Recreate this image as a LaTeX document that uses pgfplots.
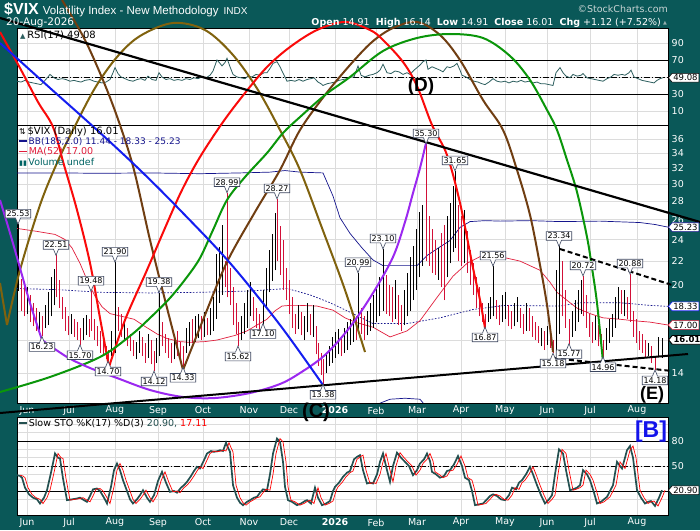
\documentclass[border=0pt]{standalone}
\usepackage{pgfplots}
\usepackage{pgfplotstable}
\pgfplotsset{compat=1.18}
\usepackage{fontspec}
\setmainfont{DejaVu Sans}
\newfontfamily\libsans{Liberation Sans}
\newfontfamily\dejavu{DejaVu Sans}
\usetikzlibrary{shapes.callouts,shapes.symbols}
\definecolor{bgteal}{RGB}{10,88,88}
\definecolor{barred}{RGB}{210,16,56}
\definecolor{bbnavy}{RGB}{20,20,140}
\definecolor{macrim}{RGB}{225,30,60}
\definecolor{rsiline}{RGB}{45,95,95}
\definecolor{stok}{RGB}{35,80,80}
\definecolor{arcred}{RGB}{250,10,10}
\definecolor{arcbrown}{RGB}{112,62,18}
\definecolor{arcolive}{RGB}{128,98,14}
\definecolor{arcgreen}{RGB}{10,150,10}
\definecolor{arcpurple}{RGB}{155,40,240}
\definecolor{arcblue}{RGB}{20,30,240}
\definecolor{gridc}{RGB}{220,220,220}
\definecolor{labbord}{RGB}{60,70,95}
\definecolor{voltxt}{RGB}{0,100,100}

\pgfplotsset{
  panel/.style={anchor=south west, scale only axis, width=651pt, xmin=17, xmax=668,
    axis background/.style={fill=white}, axis line style={black, line width=0.6pt},
    xtick={27,69,115,158,203,249,289,335,376,417,461,505,547,590,637},
    grid=major, major grid style={gridc, line width=0.5pt}, major tick length=0pt,
    yticklabel pos=right,
    yticklabel style={text=white, font=\fontsize{9.5}{10}\selectfont, anchor=west, inner sep=1pt, xshift=2.5pt},
    xticklabel style={text=white, font=\fontsize{9.5}{10}\selectfont, anchor=center},
    clip mode=individual},
}
\tikzset{
  lab/.style={rectangle callout, draw=labbord, fill=white, text=black, font=\fontsize{8}{8.5}\selectfont,
    inner sep=1.3pt, callout pointer width=5pt, line width=0.6pt},
  tag/.style={signal, signal to=west, signal pointer angle=100, draw=black, fill=white, text=black,
    font=\fontsize{8.5}{9}\selectfont, inner sep=1.2pt, anchor=west, line width=0.6pt},
}
\newcommand\hilab[2]{\node[lab, callout absolute pointer={(axis cs:#1,#2)}] at ([yshift=10.5pt]axis cs:#1,#2) {#2};}
\newcommand\lolab[2]{\node[lab, callout absolute pointer={(axis cs:#1,#2)}] at ([yshift=-10.5pt]axis cs:#1,#2) {#2};}

\pgfplotstableread{
x v
17 39
20 38
22 36
25 24
29 16
33 12
37 10
40 5
44 12
47 21
51 42
55 65
58 60
60 59
63 35
67 9
72 10
77 11
80 12
84 9
87 7
90 14
93 22
97 23
100 20
104 12
107 5
111 25
114 45
117 53
120 45
123 33
127 20
130 10
133 5
137 10
140 15
143 21
147 12
150 7
154 15
158 32
162 43
166 30
170 19
174 20
177 18
181 24
184 27
187 31
191 38
194 44
197 49
200 47
204 57
207 65
211 68
214 67
218 68
220 69
223 68
226 78
228 72
230 67
233 27
237 12
240 6
243 3
247 7
250 9
254 12
257 13
260 18
263 22
267 21
270 40
273 65
277 83
280 79
283 55
285 25
288 9
292 7
297 3
301 5
305 8
307 9
311 5
315 24
318 12
322 3
326 5
330 8
333 20
335 25
339 30
343 37
347 42
350 44
354 58
357 61
360 63
363 45
367 29
370 30
373 29
377 40
380 55
383 65
387 45
390 31
393 50
397 66
401 60
405 55
409 50
413 39
417 45
420 53
424 58
427 65
430 56
432 43
436 40
440 36
444 38
447 44
450 45
454 52
458 62
462 50
465 36
469 33
472 20
475 3
479 4
483 5
487 10
490 14
493 16
497 14
501 10
505 9
509 15
512 24
516 22
519 30
522 33
526 40
530 49
533 40
537 27
541 15
545 5
549 10
552 15
555 40
559 70
563 65
566 45
570 21
573 22
577 24
580 27
583 45
587 40
590 33
594 18
597 5
601 7
604 10
607 13
610 20
613 27
617 55
620 50
622 47
625 60
627 69
630 74
633 60
637 21
641 12
645 5
648 7
651 8
655 2
659 12
662 20.9
}\stotable

\begin{document}
\begin{tikzpicture}
\useasboundingbox (0pt,0pt) rectangle (700pt,530pt);
\clip (0pt,0pt) rectangle (700pt,530pt);
\fill[bgteal] (0pt,0pt) rectangle (700pt,530pt);

% ---------------- RSI panel ----------------
\begin{axis}[panel, at={(17pt,405pt)}, height=97pt, ymin=-6.5, ymax=107.6,
  xticklabels={}, ytick={10,30,50,70,90}, yticklabels={10,30,,70,90}]
\addplot[black, line width=0.8pt] coordinates {(17,70)(668,70)};
\addplot[black, line width=0.8pt] coordinates {(17,30)(668,30)};
\addplot[black, line width=0.7pt, dash pattern=on 6pt off 2pt on 1.2pt off 2pt] coordinates {(17,50)(668,50)};
\addplot[rsiline, line width=0.8pt] coordinates {
(17,45)(21,44)(25,46)(29,44)(33,43)(37,42)(41,41)(45,46)(48,50)(50,53)(54,49)(58,47)(62,48)(66,47)(70,45)(74,46)(77,45)(81,44)(85,46)(90,47)(94,45)(98,44)(102,43)(106,44)(110,47)(113,55)(115,61)(118,54)(121,50)(125,48)(129,46)(133,45)(137,47)(141,48)(145,46)(148,51)(152,47)(156,46)(159,55)(162,50)(166,47)(170,48)(174,46)(178,47)(182,46)(186,48)(190,47)(194,49)(198,48)(202,50)(206,49)(210,52)(213,57)(217,70)(220,66)(222,63)(225,67)(227,72)(230,62)(233,53)(237,50)(241,49)(245,48)(248,51)(252,50)(256,53)(260,52)(264,55)(267,55)(270,60)(273,66)(277,68)(280,62)(282,57)(285,50)(287,45)(291,46)(295,45)(299,47)(303,45)(307,47)(311,48)(314,49)(318,44)(321,42)(323,40)(327,42)(331,43)(335,44)(339,46)(343,47)(347,48)(350,50)(354,50)(358,63)(361,52)(365,50)(369,52)(373,53)(377,55)(380,58)(383,65)(387,55)(391,54)(395,57)(399,56)(403,53)(407,55)(410,53)(414,58)(417,61)(420,64)(423,68)(426,70)(428,59)(432,62)(436,60)(440,58)(443,56)(447,62)(450,61)(454,63)(457,66)(460,58)(462,52)(466,50)(470,47)(474,45)(478,44)(482,42)(485,41)(489,44)(493,48)(497,45)(501,44)(505,45)(509,43)(513,45)(517,44)(521,46)(525,44)(529,45)(533,43)(537,44)(541,42)(545,42)(549,41)(553,40)(556,55)(558,58)(560,61)(563,55)(566,51)(570,49)(573,53)(577,51)(581,52)(583,54)(587,49)(591,48)(595,47)(599,46)(603,45)(607,48)(611,50)(614,53)(618,52)(622,53)(625,52)(629,55)(631,58)(634,50)(638,48)(642,46)(646,45)(650,44)(654,43)(657,46)(660,48)(663,49.08)};
\node[tag] at (axis cs:668,49.08) {49.08};
\end{axis}

% ---------------- Main price panel ----------------
\begin{axis}[panel, at={(17pt,127pt)}, height=278pt, ymode=log, ymin=12.41, ymax=38.1,
  ytick={14,16,18,20,22,24,26,28,30,32,34,36},
  yticklabels={14,,,20,22,24,26,28,30,32,34,36},
  xticklabels={Jun,Jul,Aug,Sep,Oct,Nov,Dec,\textbf{2026},Feb,Mar,Apr,May,Jun,Jul,Aug},
  xticklabel style={yshift=-7.5pt}]
\addplot[bbnavy, line width=0.7pt] coordinates {(17,31.4)(60,31.4)(100,31.35)(150,31.4)(200,31.3)(240,31.4)(270,31.5)(285,31.7)(300,31.5)(323,31.4)(333,28.6)(340,26.2)(350,24.6)(362,23.2)(373,22.1)(383,21.6)(400,21.6)(417,21.6)(427,22.5)(440,23.3)(450,23.9)(460,25.2)(470,25.8)(485,25.9)(500,25.85)(530,25.9)(560,25.8)(600,25.85)(640,25.7)(655,25.5)(668,25.23)};
\addplot[bbnavy, line width=0.7pt, dash pattern=on 1.6pt off 1.6pt] coordinates {(17,19.7)(60,19.6)(100,19.4)(150,19.35)(200,19.4)(250,19.5)(287,19.7)(310,19.2)(330,18.6)(350,17.9)(373,17.1)(407,17.1)(440,17.5)(473,18.1)(505,18.4)(560,18.35)(580,18.6)(620,18.6)(650,18.4)(668,18.33)};
\addplot[bbnavy, line width=0.7pt] coordinates {(330,6.5)(340,10.0)(350,11.3)(362,11.8)(375,12.3)(390,12.6)(405,12.65)(420,12.6)(430,12.0)(440,11.7)(460,10.2)(480,9.5)};
\addplot[macrim, line width=0.7pt] coordinates {(17,25.1)(37,24.8)(55,24.5)(65,24.0)(72,23.2)(80,21.8)(88,20.2)(95,19.1)(102,18.3)(110,17.8)(122,17.6)(134,17.4)(145,16.9)(157,16.4)(167,16.1)(180,15.9)(190,15.85)(205,15.9)(217,16.0)(235,16.3)(247,16.6)(257,17.0)(267,17.4)(275,18.0)(282,18.35)(290,18.4)(300,18.4)(317,18.35)(333,18.05)(345,17.5)(355,17.2)(373,16.85)(390,16.2)(407,16.6)(420,17.3)(437,19.0)(453,20.7)(467,21.8)(480,22.4)(493,22.5)(505,22.3)(520,22.0)(540,21.2)(550,20.2)(557,19.4)(570,18.6)(577,18.2)(590,17.8)(603,17.5)(620,17.4)(633,17.3)(650,17.2)(668,17.0)};
\addplot[black, line width=1pt, unbounded coords=jump] coordinates {
(18,19.5)(18,25.53)(18,nan)(27,17.8)(27,19.8)(27,nan)(39,16.4)(39,17.9)(39,nan)(45,16.8)(45,18.4)(45,nan)
(48,17.0)(48,19.4)(48,nan)(51,17.6)(51,20.6)(51,nan)(54,18.4)(54,21.3)(54,nan)(71,16.4)(71,17.8)(71,nan)
(83,16.0)(83,17.5)(83,nan)(86,16.3)(86,17.7)(86,nan)(111,15.0)(111,16.6)(111,nan)(115,15.2)(115,21.90)(115,nan)
(124,16.0)(124,17.3)(124,nan)(136,14.8)(136,15.9)(136,nan)(139,15.2)(139,16.6)(139,nan)(148,14.9)(148,16.4)(148,nan)
(156,14.6)(156,16.1)(156,nan)(159,15.0)(159,19.38)(159,nan)(174,14.8)(174,16.4)(174,nan)(186,15.2)(186,16.8)(186,nan)
(189,15.6)(189,17.2)(189,nan)(195,15.9)(195,17.6)(195,nan)(198,16.1)(198,17.8)(198,nan)(204,16.2)(204,17.9)(204,nan)
(210,16.3)(210,18.2)(210,nan)(213,16.6)(213,19.0)(213,nan)(216,17.4)(216,22.6)(216,nan)(219,18.6)(219,23.3)(219,nan)
(222,19.2)(222,25.4)(222,nan)(241,16.0)(241,17.6)(241,nan)(244,16.4)(244,18.6)(244,nan)(247,16.8)(247,19.6)(247,nan)
(250,17.6)(250,20.2)(250,nan)(263,17.10)(263,19.6)(263,nan)(266,18.2)(266,21.4)(266,nan)(269,19.4)(269,23.0)(269,nan)
(272,20.3)(272,24.5)(272,nan)(275,21.2)(275,26.7)(275,nan)(298,16.7)(298,18.4)(298,nan)(304,16.0)(304,17.6)(304,nan)
(307,16.5)(307,18.6)(307,nan)(313,16.2)(313,18.4)(313,nan)(326,14.0)(326,15.2)(326,nan)(329,14.4)(329,15.6)(329,nan)
(332,14.6)(332,16.2)(332,nan)(335,14.9)(335,16.5)(335,nan)(338,15.1)(338,16.7)(338,nan)(344,15.2)(344,16.8)(344,nan)
(347,15.4)(347,17.2)(347,nan)(350,15.7)(350,17.4)(350,nan)(353,15.9)(353,17.8)(353,nan)(358,16.6)(358,20.99)(358,nan)
(367,16.3)(367,18.0)(367,nan)(370,16.6)(370,18.6)(370,nan)(373,16.8)(373,19.2)(373,nan)(376,17.2)(376,19.8)(376,nan)
(379,17.6)(379,20.6)(379,nan)(383,18.0)(383,23.10)(383,nan)(395,17.4)(395,20.4)(395,nan)(404,17.0)(404,19.6)(404,nan)
(407,17.6)(407,21.0)(407,nan)(410,18.0)(410,22.4)(410,nan)(413,18.8)(413,23.4)(413,nan)(416,19.6)(416,25.0)(416,nan)
(419,20.6)(419,26.8)(419,nan)(422,21.6)(422,27.6)(422,nan)(438,20.4)(438,23.2)(438,nan)(447,20.6)(447,26.4)(447,nan)
(450,21.8)(450,27.8)(450,nan)(453,22.8)(453,29.8)(453,nan)(455,23.2)(455,31.65)(455,nan)(464,21.8)(464,27.0)(464,nan)
(488,17.2)(488,18.6)(488,nan)(490,17.4)(490,19.0)(490,nan)(493,17.6)(493,21.56)(493,nan)(502,17.2)(502,19.2)(502,nan)
(505,17.4)(505,19.4)(505,nan)(514,16.9)(514,18.6)(514,nan)(517,17.2)(517,19.0)(517,nan)(526,16.6)(526,18.6)(526,nan)
(541,15.6)(541,16.8)(541,nan)(547,15.7)(547,16.9)(547,nan)(556,15.3)(556,21.2)(556,nan)(559,16.4)(559,23.34)(559,nan)
(572,16.2)(572,18.0)(572,nan)(575,16.6)(575,18.8)(575,nan)(578,17.2)(578,19.6)(578,nan)(581,17.8)(581,20.4)(581,nan)
(595,16.0)(595,17.6)(595,nan)(606,15.4)(606,16.8)(606,nan)(609,15.8)(609,17.4)(609,nan)(612,16.2)(612,17.8)(612,nan)
(615,16.8)(615,19.0)(615,nan)(618,17.4)(618,19.8)(618,nan)(624,17.6)(624,19.6)(624,nan)(648,15.0)(648,15.8)(648,nan)
(658,15.0)(658,16.2)(658,nan)(662,14.91)(662,16.14)(662,nan)};
\addplot[barred, line width=1pt, unbounded coords=jump] coordinates {
(21,18.0)(21,20.5)(21,nan)(24,17.6)(24,20.0)(24,nan)(30,17.2)(30,19.2)(30,nan)(33,16.9)(33,18.6)(33,nan)
(36,16.6)(36,18.2)(36,nan)(42,16.23)(42,17.6)(42,nan)(56,19.0)(56,22.51)(56,nan)(59,18.2)(59,20.4)(59,nan)
(62,17.4)(62,19.0)(62,nan)(65,16.6)(65,18.3)(65,nan)(68,16.3)(68,17.6)(68,nan)(74,16.2)(74,17.4)(74,nan)
(77,16.0)(77,17.2)(77,nan)(80,15.70)(80,16.8)(80,nan)(89,16.2)(89,17.4)(89,nan)(91,16.6)(91,19.48)(91,nan)
(94,16.0)(94,17.4)(94,nan)(97,15.6)(97,16.9)(97,nan)(100,15.2)(100,16.6)(100,nan)(103,15.0)(103,16.2)(103,nan)
(106,14.8)(106,15.6)(106,nan)(108,14.70)(108,15.4)(108,nan)(118,16.6)(118,18.3)(118,nan)(121,16.2)(121,17.8)(121,nan)
(127,15.6)(127,16.8)(127,nan)(130,15.3)(130,16.4)(130,nan)(133,15.0)(133,16.0)(133,nan)(142,15.0)(142,16.2)(142,nan)
(145,14.6)(145,15.8)(145,nan)(151,14.5)(151,16.0)(151,nan)(154,14.12)(154,15.3)(154,nan)(162,15.6)(162,17.2)(162,nan)
(165,15.2)(165,16.4)(165,nan)(168,14.9)(168,16.1)(168,nan)(171,14.6)(171,15.8)(171,nan)(177,15.0)(177,16.6)(177,nan)
(180,14.7)(180,15.9)(180,nan)(183,14.33)(183,15.6)(183,nan)(192,15.8)(192,17.4)(192,nan)(201,16.0)(201,17.6)(201,nan)
(207,16.3)(207,17.5)(207,nan)(225,19.8)(225,22.0)(225,nan)(227,19.0)(227,28.99)(227,nan)(230,18.4)(230,21.4)(230,nan)
(233,17.0)(233,19.8)(233,nan)(236,16.4)(236,18.6)(236,nan)(238,15.62)(238,17.2)(238,nan)(253,17.3)(253,19.0)(253,nan)
(256,16.8)(256,18.2)(256,nan)(259,16.5)(259,17.8)(259,nan)(277,22.0)(277,28.27)(277,nan)(280,20.8)(280,25.3)(280,nan)
(283,19.6)(283,24.0)(283,nan)(286,18.8)(286,21.4)(286,nan)(289,17.8)(289,20.4)(289,nan)(292,16.8)(292,19.0)(292,nan)
(295,16.4)(295,17.8)(295,nan)(301,16.3)(301,17.9)(301,nan)(310,16.3)(310,17.8)(310,nan)(316,15.1)(316,16.9)(316,nan)
(318,14.4)(318,15.8)(318,nan)(321,13.9)(321,15.2)(321,nan)(323,13.38)(323,14.8)(323,nan)(341,15.0)(341,16.2)(341,nan)
(356,16.0)(356,17.6)(356,nan)(361,16.4)(361,18.2)(361,nan)(364,16.0)(364,17.6)(364,nan)(386,17.8)(386,20.8)(386,nan)
(389,17.6)(389,20.0)(389,nan)(392,17.2)(392,19.8)(392,nan)(398,17.0)(398,19.2)(398,nan)(401,16.6)(401,18.4)(401,nan)
(426,22.0)(426,35.30)(426,nan)(429,21.6)(429,26.4)(429,nan)(432,21.0)(432,25.0)(432,nan)(435,20.8)(435,24.0)(435,nan)
(441,19.8)(441,24.6)(441,nan)(444,18.8)(444,25.4)(444,nan)(458,22.0)(458,27.6)(458,nan)(461,21.6)(461,26.4)(461,nan)
(467,21.0)(467,24.8)(467,nan)(470,20.0)(470,23.0)(470,nan)(473,19.2)(473,21.8)(473,nan)(476,18.2)(476,20.6)(476,nan)
(479,17.6)(479,19.8)(479,nan)(482,17.2)(482,18.6)(482,nan)(485,16.87)(485,17.8)(485,nan)(496,17.4)(496,18.8)(496,nan)
(499,17.0)(499,18.4)(499,nan)(508,16.9)(508,18.4)(508,nan)(511,16.7)(511,18.0)(511,nan)(520,16.8)(520,18.2)(520,nan)
(523,16.4)(523,17.8)(523,nan)(529,16.6)(529,18.2)(529,nan)(532,16.2)(532,17.6)(532,nan)(535,16.0)(535,17.2)(535,nan)
(538,15.8)(538,16.9)(538,nan)(544,15.4)(544,16.6)(544,nan)(550,15.5)(550,16.4)(550,nan)(553,15.18)(553,16.0)(553,nan)
(562,17.6)(562,22.0)(562,nan)(565,16.8)(565,19.6)(565,nan)(569,15.77)(569,17.4)(569,nan)(583,17.6)(583,20.72)(583,nan)
(586,16.8)(586,19.2)(586,nan)(589,16.2)(589,17.8)(589,nan)(592,15.8)(592,17.2)(592,nan)(598,15.6)(598,17.0)(598,nan)
(601,15.2)(601,16.4)(601,nan)(603,14.96)(603,16.0)(603,nan)(621,17.8)(621,19.6)(621,nan)(627,17.4)(627,19.0)(627,nan)
(630,17.2)(630,20.88)(630,nan)(633,16.2)(633,18.0)(633,nan)(636,15.8)(636,17.4)(636,nan)(639,15.4)(639,16.6)(639,nan)
(642,15.2)(642,16.4)(642,nan)(645,14.9)(645,16.0)(645,nan)(651,14.6)(651,15.6)(651,nan)(655,14.18)(655,15.0)(655,nan)};
\end{axis}

% ---------------- Slow STO panel ----------------
\begin{axis}[panel, at={(17pt,15pt)}, height=98pt, ymin=-8.8, ymax=108.8,
  ytick={10,20,30,40,50,60,70,80,90,100}, yticklabels={,,,,50,,,80,,},
  xticklabels={Jun,Jul,Aug,Sep,Oct,Nov,Dec,\textbf{2026},Feb,Mar,Apr,May,Jun,Jul,Aug},
  xticklabel style={yshift=-7.5pt}]
\addplot[black, line width=0.8pt] coordinates {(17,80)(668,80)};
\addplot[black, line width=0.8pt] coordinates {(17,20)(668,20)};
\addplot[black, line width=0.7pt, dash pattern=on 6pt off 2pt on 1.2pt off 2pt] coordinates {(17,50)(668,50)};
\addplot[stok, line width=1.7pt] table[x=x, y=v] {\stotable};
\addplot[red, line width=0.7pt] table[x expr=\thisrow{x}+3, y=v] {\stotable};
\node[tag] at (axis cs:668,20.9) {20.90};
\end{axis}

% ---------------- Overlay (cycle arcs, trend lines) in pixel coordinates ----------------
\begin{axis}[at={(0pt,0pt)}, anchor=south west, scale only axis, width=700pt, height=530pt,
  xmin=0, xmax=700, ymin=0, ymax=530, y dir=reverse, hide axis, clip=false]
\addplot[arcolive, line width=2pt] coordinates {(0,283)(7,325)};
\addplot[arcolive, line width=2pt, smooth, tension=0.55] coordinates {(7,325)(20,270)(40,205)(57,163)(73,130)(95,88)(117,57)(140,36)(173,23)(205,30)(233,55)(258,90)(280,130)(300,170)(322,228)(345,290)(365,352)};
\addplot[arcbrown, line width=2pt, smooth, tension=0.55] coordinates {(62,0)(85,40)(105,85)(120,125)(134,170)(150,240)(165,300)(183,370)};
\addplot[arcbrown, line width=2pt, smooth, tension=0.55] coordinates {(183,370)(205,315)(227,262)(255,212)(280,170)(300,130)(325,95)(350,65)(372,42)(393,28)(417,22)(440,35)(460,60)(483,100)(503,130)(517,170)(530,215)(540,265)(547,305)(553,352)};
\addplot[arcred, line width=2pt, smooth, tension=0.55] coordinates {(0,32)(20,68)(38,102)(53,127)(64,165)(77,210)(90,263)(100,318)(109,367)};
\addplot[arcred, line width=2pt, smooth, tension=0.55] coordinates {(109,367)(125,320)(147,270)(165,228)(182,190)(200,157)(223,122)(245,93)(267,67)(290,47)(317,30)(345,22)(370,30)(383,40)(403,62)(417,86)(432,125)(447,155)(460,203)(473,268)(480,300)(485,328)};
\addplot[arcgreen, line width=2pt, smooth, tension=0.55] coordinates {(0,392)(50,377)(100,357)(130,336)(150,318)(170,298)(187,277)(200,258)(213,230)(227,200)(245,177)(267,153)(283,133)(300,117)(325,95)(350,77)(383,51)(417,38)(450,34)(483,38)(510,56)(530,80)(547,110)(557,130)(567,160)(577,192)(587,237)(592,268)(597,303)(603,362)};
\addplot[arcpurple, line width=2pt, smooth, tension=0.55] coordinates {(0,200)(10,233)(20,268)(30,303)(42,340)};
\addplot[arcpurple, line width=2pt, smooth, tension=0.55] coordinates {(42,340)(67,357)(90,368)(117,378)(150,390)(183,397)(215,398)(250,393)(280,384)(300,373)(325,355)(350,327)(373,293)(393,257)(405,222)(413,193)(420,168)(426,143)};
\addplot[arcblue, line width=2pt, smooth, tension=0.55] coordinates {(0,43)(50,88)(97,130)(140,170)(180,210)(230,263)(280,325)(323,385)};
\addplot[black, line width=2.2pt] coordinates {(0,18)(700,222)};
\addplot[black, line width=2pt] coordinates {(0,413)(688,354)};
\addplot[black, line width=2pt, dash pattern=on 5pt off 3pt] coordinates {(560,249)(672,285)};
\addplot[black, line width=2pt, dash pattern=on 5pt off 3pt] coordinates {(553,358)(672,371)};
\end{axis}

% ---------------- Price callouts and value tags (main panel coordinates) ----------------
\begin{axis}[at={(17pt,127pt)}, anchor=south west, scale only axis, width=651pt, height=278pt,
  xmin=17, xmax=668, ymode=log, ymin=12.41, ymax=38.1, hide axis, clip=false]
\hilab{18}{25.53}
\hilab{56}{22.51}
\hilab{91}{19.48}
\hilab{115}{21.90}
\hilab{159}{19.38}
\hilab{227}{28.99}
\hilab{277}{28.27}
\hilab{358}{20.99}
\hilab{383}{23.10}
\hilab{426}{35.30}
\hilab{455}{31.65}
\hilab{493}{21.56}
\hilab{559}{23.34}
\hilab{583}{20.72}
\hilab{630}{20.88}
\lolab{42}{16.23}
\lolab{80}{15.70}
\lolab{108}{14.70}
\lolab{154}{14.12}
\lolab{183}{14.33}
\lolab{238}{15.62}
\lolab{263}{17.10}
\lolab{323}{13.38}
\lolab{485}{16.87}
\lolab{553}{15.18}
\lolab{569}{15.77}
\lolab{603}{14.96}
\lolab{655}{14.18}
\node[tag, draw=bbnavy] at (axis cs:668,25.23) {25.23};
\node[tag, draw=arcblue] at (axis cs:668,18.33) {18.33};
\node[tag, draw=macrim] at (axis cs:668,17.00) {17.00};
\node[tag, line width=0.9pt, font=\fontsize{8.5}{9}\selectfont\bfseries] at (axis cs:668,16.01) {16.01};
\end{axis}

% ---------------- Texts ----------------
\node[anchor=west, text=white, inner sep=0pt] at (4pt,520.5pt)
  {{\libsans\fontsize{16}{16}\selectfont\bfseries \$VIX}\hspace{4pt}{\libsans\fontsize{11.5}{12}\selectfont Volatility Index - New Methodology}\hspace{5pt}{\libsans\fontsize{10}{10}\selectfont INDX}};
\node[anchor=west, text=white, inner sep=0pt, font=\fontsize{10.5}{11}\selectfont] at (6pt,507.5pt) {20-Aug-2026};
\node[anchor=east, text={rgb,255:red,200;green,212;blue,212}, inner sep=0pt, font=\fontsize{9.5}{10}\selectfont] at (668pt,521pt) {©StockCharts.com};
\node[anchor=east, text=white, inner sep=0pt, font=\fontsize{9.5}{10}\selectfont] at (661pt,507.5pt)
  {\textbf{Open} 14.91 \ \textbf{High} 16.14 \ \textbf{Low} 14.91 \ \textbf{Close} 16.01 \ \textbf{Chg} +1.12 (+7.52\%)};
\node[anchor=west, text={rgb,255:red,150;green,175;blue,175}, inner sep=0pt, font=\fontsize{5}{5}\selectfont] at (663pt,507pt) {▲};
\node[anchor=west, inner sep=0pt, font=\fontsize{10}{10}\selectfont] at (20pt,495pt) {{\fontsize{7}{7}\selectfont\textcolor{rsiline}{▲}}\,RSI(17) 49.08};
\node[anchor=west, inner sep=0pt, font=\fontsize{10}{10}\selectfont] at (19pt,398pt) {{\fontsize{8}{8}\selectfont ⇅}\,\$VIX (Daily) 16.01};
\node[anchor=west, inner sep=0pt, font=\fontsize{9}{10}\selectfont, text=bbnavy] at (19pt,388pt) {\rule[2.8pt]{8pt}{1.6pt}\,BB(185,2.0) 11.44 - 18.33 - 25.23};
\node[anchor=west, inner sep=0pt, font=\fontsize{9.5}{10}\selectfont, text=macrim] at (19pt,378pt) {\rule[2.8pt]{8pt}{1.6pt}\,MA(52) 17.00};
\node[anchor=west, inner sep=0pt, font=\fontsize{9.5}{10}\selectfont, text=voltxt] at (19pt,368pt) {{\fontsize{7}{7}\selectfont ▮▮}\,Volume undef};
\node[anchor=west, inner sep=0pt, font=\fontsize{9.5}{10}\selectfont] at (19pt,106pt) {\textcolor{stok}{\rule[2.8pt]{8pt}{1.8pt}}\,Slow STO \%K(17) \%D(3) \textcolor{stok}{20.90,} \textcolor{red}{17.11}};
\node[font=\libsans\fontsize{19}{19}\selectfont\bfseries, text=black] at (421pt,443pt) {(D)};
\node[font=\libsans\fontsize{20}{20}\selectfont\bfseries, text=black] at (316pt,118pt) {(C)};
\node[font=\libsans\fontsize{18}{18}\selectfont\bfseries, text=black] at (652pt,135pt) {(E)};
\node[font=\libsans\fontsize{23}{23}\selectfont\bfseries, text={rgb,255:red,20;green,20;blue,235}] at (651pt,98pt) {[B]};
\end{tikzpicture}
\end{document}
